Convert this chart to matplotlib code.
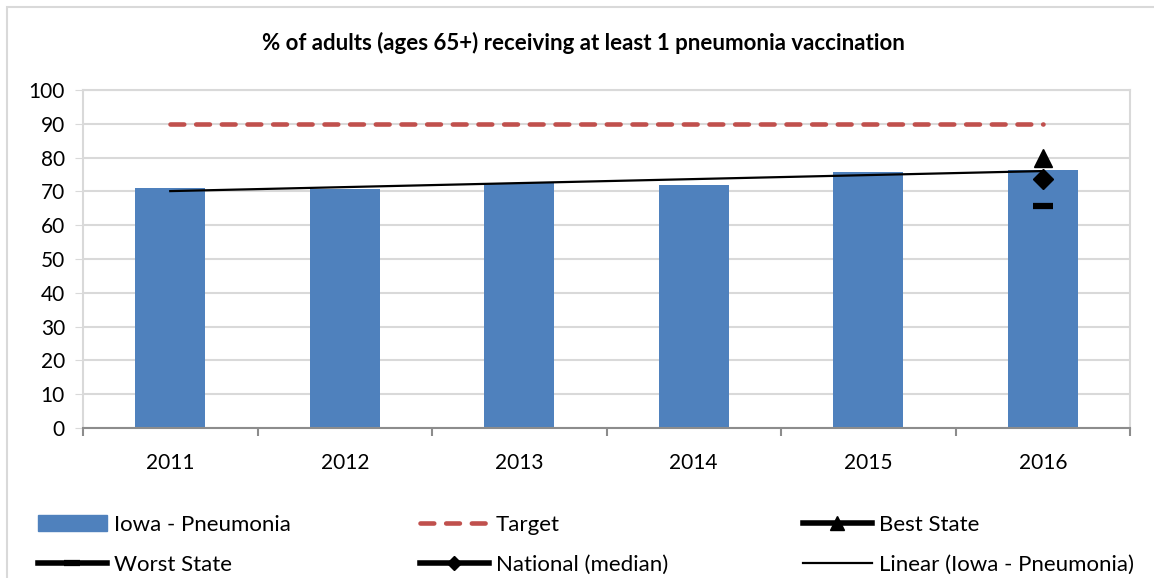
import numpy as np
import matplotlib
matplotlib.use('Agg')
import matplotlib.pyplot as plt
from matplotlib.patches import Rectangle, Patch

plt.rcParams['font.family'] = ['Lato', 'DejaVu Sans']

# data
years = ['2011', '2012', '2013', '2014', '2015', '2016']
iowa = [71.0, 70.8, 72.4, 71.9, 75.8, 76.4]
target = [90, 90, 90, 90, 90, 90]
best_state = 80.0
worst_state = 65.7
national = 73.6

BLUE = '#4F81BD'
RED = '#C0504D'
GRID = '#D9D9D9'

fig = plt.figure(figsize=(11.54, 5.78), dpi=100)
ax = fig.add_axes([83/1154, 1-428/578, (1130-83)/1154, (428-90)/578])

x = np.arange(len(years))
bars = ax.bar(x, iowa, width=0.4, color=BLUE, zorder=2)

tline, = ax.plot(x, target, color=RED, lw=3.3, dashes=(3, 2.6),
                 dash_capstyle='round', zorder=3)

# linear trend of the iowa bars
k, b = np.polyfit(x, iowa, 1)
trend, = ax.plot(x, k*x + b, color='black', lw=1.6, zorder=4)

last = x[-1]
best, = ax.plot([last], [best_state], color='black', lw=4, marker='^',
                ms=13, zorder=5)
worst, = ax.plot([last], [worst_state], color='black', lw=4, marker='_',
                 ms=15, mew=4.5, zorder=5)
nat, = ax.plot([last], [national], color='black', lw=4, marker='D',
               ms=10, zorder=5)

ax.set_xlim(-0.5, len(years) - 0.5)
ax.set_ylim(0, 100)
ax.set_yticks(range(0, 101, 10))
ax.set_xticks(x)
ax.set_xticklabels(years)
ax.set_xticks(np.arange(-0.5, len(years), 1), minor=True)
ax.tick_params(axis='x', which='major', length=0, pad=18, labelsize=15)
ax.tick_params(axis='x', which='minor', length=6, width=1.5, color='#8C8C8C')
ax.tick_params(axis='y', length=6, color=GRID, pad=7, labelsize=15)
ax.yaxis.grid(True, color=GRID, lw=1.5, zorder=0)
ax.set_axisbelow(True)
for s in ['left', 'right', 'top']:
    ax.spines[s].set_color(GRID)
    ax.spines[s].set_linewidth(1.5)
ax.spines['bottom'].set_color('#8C8C8C')
ax.spines['bottom'].set_linewidth(1.5)

fig.text(0.5 + (583 - 577)/1154, 1 - 43/578,
         '% of adults (ages 65+) receiving at least 1 pneumonia vaccination',
         ha='center', va='center', fontsize=16, fontweight='bold')

# outer chart border (runs off the right and bottom edges)
fig.patches.append(Rectangle((7/1154, -0.2), 1.2, 1 - 7/578 + 0.2,
                             transform=fig.transFigure, fill=False,
                             ec=GRID, lw=1.5))

iowa_h = Patch(color=BLUE)
cols = [([iowa_h, worst], ['Iowa - Pneumonia', 'Worst State'], 38),
        ([tline, nat], ['Target', 'National (median)'], 420),
        ([best, trend], ['Best State', 'Linear (Iowa - Pneumonia)'], 803)]
for hs, labs, xp in cols:
    fig.legend(hs, labs, loc='upper left',
               bbox_to_anchor=(xp/1154, 1 - 515/578),
               frameon=False, fontsize=16, handlelength=3.1,
               handletextpad=0.3, labelspacing=0.9, borderpad=0,
               borderaxespad=0, markerscale=0.75)

fig.savefig('out.png', dpi=100)
